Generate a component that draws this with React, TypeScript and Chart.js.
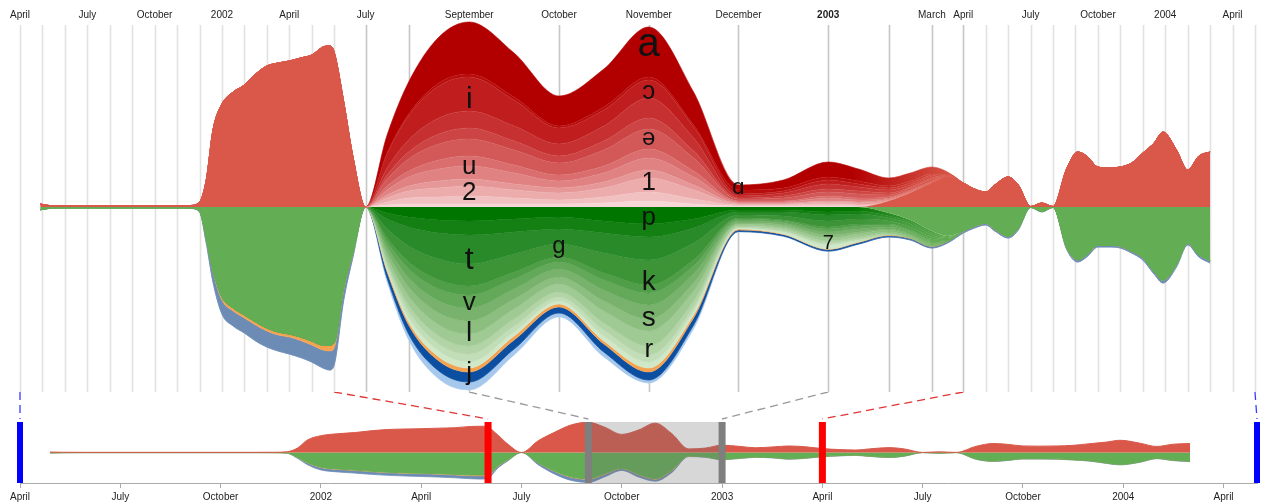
import { useEffect, useRef } from 'react';
import { Chart, LinearScale, registerables } from 'chart.js';

// ---------------- DATA ----------------
// time in months since April 2001 (0 = April 2001, 37 = May 2004)
const months = [
  0.9, 1.3, 2, 3, 4, 5, 6, 7, 7.6, 8, 8.3, 8.6, 9, 9.5, 10, 10.5, 11, 11.5, 12, 12.5, 13, 13.5, 13.8, 14, 14.3, 14.6,
  15, 15.5, 16, 16.5, 17, 17.5, 18, 18.5, 19, 19.5, 20, 20.5, 21, 21.5, 22, 22.5, 23, 23.5, 24,
  24.5, 25, 25.4, 26, 26.45, 27, 27.5, 28, 28.6, 29.1, 29.5, 30, 30.5, 31, 31.5, 32, 32.5, 32.9, 33.5, 34, 34.5, 35,
];
// months of the detailed (focus) period
const focusMonths = [15, 15.5, 16, 16.5, 17, 17.5, 18, 18.5, 19, 19.5, 20, 20.5, 21, 21.5, 22, 22.5, 23, 23.5, 24];

// aggregated streams (outside the focus)
const redAggregate = [
  3, 1.5, 1, 1, 1, 1, 1, 1, 1.5, 5, 27, 77, 103, 115, 122, 133, 141, 144, 146, 149, 152, 160, 161, 155, 106, 50,
  0, 0, 0, 0, 0, 0, 0, 0, 0, 0, 0, 0, 0, 0, 6, 14, 24, 30, 24,
  18, 15, 22, 30, 22, 0.5, 4, 0.5, 38, 55, 51, 40, 39, 40, 44, 54, 64, 75, 57, 37, 51, 55,
];
const greenAggregate = [
  2.7, 1.3, 0.8, 0.8, 0.8, 0.8, 0.8, 0.8, 1.2, 4, 31, 63, 90, 101, 108, 115, 121, 125, 127, 130, 134, 138, 138, 136, 81, 45,
  0, 0, 0, 0, 0, 0, 0, 0, 0, 0, 0, 0, 0, 0, 6, 13, 24, 29, 24,
  19, 16, 22, 29, 21, 0.2, 4.3, 0.2, 40, 52.5, 47.5, 38, 38, 39, 44, 50.5, 64.5, 73, 57.5, 36, 47.5, 53.5,
];
const orangeBand = [
  0, 0, 0, 0, 0, 0, 0, 0, 0, 0.3, 1, 2, 3, 3, 3, 3, 3, 3, 3, 3.5, 4, 5, 6, 5, 3, 1,
  0, 2, 3, 4, 4, 4, 3, 3, 4, 3, 1, 0.5, 0.5, 0.5, 0.5, 0.5, 0.5, 0.5, 0.5,
  0.5, 0.5, 0.5, 0.5, 0.5, 0.1, 0.2, 0.1, 0.5, 0.5, 0.5, 0.5, 0.5, 0.5, 0.5, 0.5, 0.5, 0.5, 0.5, 0.5, 0.5, 0.5,
];
const blueBand = [
  0.3, 0.2, 0.2, 0.2, 0.2, 0.2, 0.2, 0.2, 0.3, 0.7, 4, 10, 14, 15, 15, 16, 16, 16, 17, 17, 17, 18, 19, 17, 10, 4,
  0, 6, 9, 10, 10, 9, 6, 8, 8, 7, 1.5, 1.5, 1.5, 1.5, 1.5, 1.5, 1.5, 1.5, 1.5,
  1.5, 1.5, 1.5, 1.5, 1.5, 0.2, 0.5, 0.2, 1.5, 2, 2, 1.5, 1.5, 1.5, 1.5, 2, 2, 2.5, 2, 1.5, 2, 2,
];
const blueLightBand = [0, 4, 6, 8, 8, 6, 4, 5, 3, 4, 0.5, 0.5, 0.5, 0.5, 0, 0, 0, 0, 0];

// detailed vowel streams (focus months), outermost first
const vowelA = [0, 18, 32, 46, 52, 44, 30, 38, 50, 33, 5, 8, 15, 12, 8, 8, 7, 2, 0];
const vowelAlpha = [0, 1, 2, 3, 3, 3, 2, 3, 3, 2, 4, 3, 3, 3, 2, 2, 1, 0, 0];
const vowelI = [0, 14, 24, 32, 34, 26, 16, 16, 18, 11, 2, 2, 4, 3, 2, 2, 1, 0, 0];
const vowelOpenO = [0, 7, 12, 16, 17, 15, 12, 15, 20, 13, 2, 3, 5, 4, 3, 2, 2, 1, 0];
const vowelE = [0, 4, 7, 10, 11, 9, 7, 9, 11, 7, 1, 2, 3, 3, 2, 1, 1, 0, 0];
const vowelSchwa = [0, 7, 12, 16, 17, 15, 12, 16, 20, 13, 2, 3, 4, 4, 2, 2, 2, 1, 0];
const vowelO = [0, 4, 6, 9, 10, 8, 6, 7, 9, 6, 1, 1, 2, 2, 1, 1, 1, 0, 0];
const vowelU = [0, 5, 9, 12, 13, 11, 7, 9, 12, 8, 1, 1, 3, 2, 1, 1, 1, 1, 0];
const vowelEps = [0, 3, 5, 7, 7, 6, 5, 6, 8, 5, 1, 1, 1, 1, 1, 1, 0, 0, 0];
const vowel1 = [0, 4, 7, 9, 10, 8, 7, 9, 14, 9, 1, 1, 2, 2, 1, 0, 0, 0, 0];
const vowel2 = [0, 3, 6, 7, 8, 6, 4, 6, 9, 5, 1, 1, 2, 1, 0, 0, 0, 0, 0];
const vowelY = [0, 2, 3, 3, 3, 3, 3, 4, 6, 3, 1, 1, 1, 1, 0, 0, 0, 0, 0];

// detailed consonant streams (focus months), closest to the centre first
const consP = [0, 6, 10, 13, 14, 12, 10, 14, 17, 12, 3, 3, 5, 4, 3, 2, 2, 1, 0];
const consG = [0, 6, 10, 13, 14, 13, 12, 12, 13, 9, 2, 2, 3, 3, 2, 2, 2, 1, 0];
const consT = [0, 10, 19, 26, 29, 22, 15, 20, 23, 15, 3, 4, 6, 5, 3, 3, 2, 1, 0];
const consK = [0, 9, 16, 21, 22, 18, 13, 20, 25, 17, 3, 4, 6, 5, 3, 3, 2, 1, 0];
const consD = [0, 4, 7, 9, 9, 7, 5, 7, 8, 6, 1, 1, 2, 2, 1, 1, 1, 0, 0];
const consV = [0, 5, 9, 12, 13, 10, 7, 10, 12, 8, 2, 2, 3, 3, 2, 1, 1, 0, 0];
const consS = [0, 5, 9, 12, 13, 10, 8, 11, 14, 9, 2, 2, 3, 3, 2, 2, 1, 1, 0];
const consL = [0, 5, 9, 12, 13, 10, 7, 10, 12, 8, 1, 2, 3, 2, 1, 1, 1, 0, 0];
const consR = [0, 5, 9, 11, 12, 10, 8, 12, 15, 10, 2, 2, 3, 3, 2, 1, 1, 0, 0];
const consN = [0, 3, 6, 8, 8, 7, 5, 7, 9, 6, 1, 2, 2, 2, 1, 1, 1, 0, 0];
const consH = [0, 3, 6, 7, 8, 6, 4, 6, 7, 4, 1, 1, 2, 1, 1, 1, 1, 0, 0];
const cons7 = [0, 2, 5, 6, 6, 4, 3, 5, 6, 4, 1, 2, 4, 2, 1, 0, 0, 0, 0];

// stream labels
const streamLabels = ['a', 'ɔ', 'ə', '1', 'i', 'u', '2', 'ɑ', 'p', 't', 'g', 'k', 'v', 's', 'l', 'r', 'j', '7'];
const streamLabelMonths = [19, 19, 19, 19, 17, 17, 17, 20, 19, 17, 18, 19, 17, 19, 17, 19, 17, 21];
const streamLabelValues = [162, 115, 69, 24, 107, 40, 14, 19, -11, -53, -39, -75, -96, -111, -126, -143, -166, -36];
const streamLabelSizes = [40, 26, 24, 26, 30, 26, 26, 22, 26, 32, 24, 28, 26, 28, 28, 26, 26, 20];

// axes
const topGridMonths = [0, 1, 2, 3, 4, 5, 6, 7, 8, 9, 10, 11, 12, 13, 14, 15, 16, 17, 18, 19, 20, 21, 22, 23, 24, 25, 26, 27, 28, 29, 30, 31, 32, 33, 34, 35, 36, 37];
const topLabelMonths = [0, 3, 6, 9, 12, 15, 17, 18, 19, 20, 21, 23, 24, 27, 30, 33, 36];
const topLabelTexts = ['April', 'July', 'October', '2002', 'April', 'July', 'September', 'October', 'November', 'December', '2003', 'March', 'April', 'July', 'October', '2004', 'April'];
const bottomTickMonths = [0, 3, 6, 9, 12, 15, 18, 21, 24, 27, 30, 33, 36];
const bottomTickTexts = ['April', 'July', 'October', '2002', 'April', 'July', 'October', '2003', 'April', 'July', 'October', '2004', 'April'];

// fisheye lens: magnification of each month interval on the top axis
const monthMagnification = [1, 1, 1, 1, 1, 1, 1, 1, 1, 1, 1, 1, 1, 1, 1.4, 1.92, 2.7, 4, 4, 4, 4, 2.7, 1.92, 1.4, 1, 1, 1, 1, 1, 1, 1, 1, 1, 1, 1, 1, 1];
// lens markers on the overview
const lensEdgeMonths = [0, 37];
const lensRampMonths = [14, 24];
const lensFocusMonths = [17, 21];

// ---------------- STYLE ----------------
const FONT = '"Liberation Sans", Arial, "DejaVu Sans", sans-serif';
const RED_AGG = 'rgb(217,88,74)';
const GREEN_AGG = 'rgb(99,173,84)';
const ORANGE = 'rgb(244,162,80)';
const BLUE_GRAY = 'rgb(108,140,182)';
const BLUE_DARK = 'rgb(12,78,160)';
const BLUE_LIGHT = 'rgb(166,200,236)';
const vowelShades = [
  'rgb(178,0,0)', 'rgb(185,12,12)', 'rgb(192,30,30)', 'rgb(199,48,48)', 'rgb(205,68,68)', 'rgb(211,88,88)',
  'rgb(218,110,110)', 'rgb(224,130,130)', 'rgb(230,152,152)', 'rgb(236,172,172)', 'rgb(241,192,192)', 'rgb(246,214,214)',
];
const consonantShades = [
  'rgb(0,118,0)', 'rgb(20,128,20)', 'rgb(40,138,40)', 'rgb(60,148,55)', 'rgb(80,158,72)', 'rgb(100,168,90)',
  'rgb(120,178,108)', 'rgb(140,190,128)', 'rgb(160,202,148)', 'rgb(178,212,166)', 'rgb(194,222,184)', 'rgb(208,232,200)',
];
const FADE = [14.95, 15.15, 21.4, 23.7];

const vowelSeries = [vowelA, vowelAlpha, vowelI, vowelOpenO, vowelE, vowelSchwa, vowelO, vowelU, vowelEps, vowel1, vowel2, vowelY];
const consonantSeries = [consP, consG, consT, consK, consD, consV, consS, consL, consR, consN, consH, cons7];

// ---------------- FISHEYE SCALE ----------------
const cumulative: number[] = [0];
for (let i = 0; i < monthMagnification.length; i++) cumulative.push(cumulative[i] + monthMagnification[i]);
const lensTotal = cumulative[cumulative.length - 1];
const lastMonth = monthMagnification.length;

function fisheyeFraction(v: number) {
  if (v <= 0) return (v * monthMagnification[0]) / lensTotal;
  if (v >= lastMonth) return 1 + ((v - lastMonth) * monthMagnification[lastMonth - 1]) / lensTotal;
  const i = Math.floor(v);
  return (cumulative[i] + (v - i) * monthMagnification[i]) / lensTotal;
}
function fisheyeInverse(f: number) {
  const c = f * lensTotal;
  for (let i = 0; i < lastMonth; i++) {
    if (c <= cumulative[i + 1]) return i + (c - cumulative[i]) / monthMagnification[i];
  }
  return lastMonth;
}

class FisheyeScale extends LinearScale {
  static id = 'fisheye';
  static defaults = {};
  getPixelForValue(value: any) {
    if (value === null || value === undefined || isNaN(value)) return NaN;
    return this.getPixelForDecimal(fisheyeFraction(+value));
  }
  getValueForPixel(pixel: number) {
    return fisheyeInverse(this.getDecimalForPixel(pixel));
  }
}

Chart.register(...registerables, FisheyeScale as any);
Chart.defaults.font.family = FONT;
Chart.defaults.color = '#222';

// ---------------- HELPERS ----------------
const focusPos = new Map(focusMonths.map((m, i) => [m, i]));
// a focus-only stream is absent (0) outside the focus months
const onFullGrid = (values: number[]) => months.map((m) => {
  const f = focusPos.get(m);
  return f === undefined ? 0 : values[f];
});
const pts = (xs: number[], ys: number[], sign = 1) => xs.map((x, i) => ({ x, y: sign * ys[i] }));

function bandGradient(chart: any, focusColor: string, contextColor: string) {
  const area = chart.chartArea;
  const xs = chart.scales && chart.scales.x;
  if (!area || !xs) return focusColor;
  const w = area.right - area.left;
  const stop = (m: number) => Math.min(1, Math.max(0, (xs.getPixelForValue(m) - area.left) / w));
  const g = chart.ctx.createLinearGradient(area.left, 0, area.right, 0);
  g.addColorStop(0, contextColor);
  g.addColorStop(stop(FADE[0]), contextColor);
  g.addColorStop(stop(FADE[1]), focusColor);
  g.addColorStop(stop(FADE[2]), focusColor);
  g.addColorStop(stop(FADE[3]), contextColor);
  g.addColorStop(1, contextColor);
  return g;
}

const areaBase = {
  pointRadius: 0,
  pointHitRadius: 0,
  cubicInterpolationMode: 'monotone',
  borderWidth: 0,
};

function topDatasets() {
  const ds: any[] = [];
  ds.push({ ...areaBase, label: 'vowels', stack: 'up', data: pts(months, redAggregate), backgroundColor: RED_AGG, fill: 'origin' });
  for (let k = vowelSeries.length - 1; k >= 0; k--) {
    const shade = vowelShades[k];
    const grad = (c: any) => bandGradient(c.chart, shade, RED_AGG);
    ds.push({ ...areaBase, stack: 'up', data: pts(months, onFullGrid(vowelSeries[k])), backgroundColor: grad, borderColor: grad, borderWidth: 0.6, fill: '-1' });
  }
  ds.push({ ...areaBase, label: 'consonants', stack: 'down', data: pts(months, greenAggregate, -1), backgroundColor: GREEN_AGG, fill: 'origin' });
  consonantSeries.forEach((s, k) => {
    const shade = consonantShades[k];
    const grad = (c: any) => bandGradient(c.chart, shade, GREEN_AGG);
    ds.push({ ...areaBase, stack: 'down', data: pts(months, onFullGrid(s), -1), backgroundColor: grad, borderColor: grad, borderWidth: 0.6, fill: '-1' });
  });
  ds.push({ ...areaBase, stack: 'down', data: pts(months, orangeBand, -1), backgroundColor: ORANGE, borderColor: ORANGE, borderWidth: 0.6, fill: '-1' });
  const blueGrad = (c: any) => bandGradient(c.chart, BLUE_DARK, BLUE_GRAY);
  ds.push({ ...areaBase, stack: 'down', data: pts(months, blueBand, -1), backgroundColor: blueGrad, borderColor: blueGrad, borderWidth: 0.8, fill: '-1' });
  const lightGrad = (c: any) => bandGradient(c.chart, BLUE_LIGHT, BLUE_GRAY);
  ds.push({ ...areaBase, stack: 'down', data: pts(months, onFullGrid(blueLightBand), -1), backgroundColor: lightGrad, borderColor: lightGrad, borderWidth: 0.5, fill: '-1' });
  return ds;
}

// overview totals built from the same streams
const sumAt = (series: number[][], i: number) => {
  const f = focusPos.get(months[i]);
  return f === undefined ? 0 : series.reduce((s, a) => s + a[f], 0);
};
const redTotal = months.map((_, i) => redAggregate[i] + sumAt(vowelSeries, i));
const greenTotal = months.map((_, i) => greenAggregate[i] + sumAt(consonantSeries, i));
const blueTotal = months.map((_, i) => blueBand[i] + sumAt([blueLightBand], i));

const gridPlugin = {
  id: 'monthGrid',
  beforeDraw(chart: any) {
    const { ctx, scales } = chart;
    const xs = scales.x;
    ctx.save();
    ctx.lineWidth = 1.6;
    for (const m of topGridMonths) {
      const x = Math.round(xs.getPixelForValue(m)) + 0.5;
      ctx.strokeStyle = m >= 15 && m <= 24 ? '#c6c6c6' : '#e2e2e2';
      ctx.beginPath();
      ctx.moveTo(x, 25);
      ctx.lineTo(x, chart.height - 2);
      ctx.stroke();
    }
    ctx.restore();
  },
};

const labelPlugin = {
  id: 'streamLabels',
  afterDatasetsDraw(chart: any) {
    const { ctx, scales } = chart;
    ctx.save();
    ctx.fillStyle = '#111';
    ctx.textAlign = 'center';
    ctx.textBaseline = 'middle';
    streamLabels.forEach((t, i) => {
      ctx.font = `${streamLabelSizes[i]}px ${FONT}`;
      ctx.fillText(t, scales.x.getPixelForValue(streamLabelMonths[i]), scales.y.getPixelForValue(streamLabelValues[i]));
    });
    ctx.restore();
  },
};

function lensPlugin(getTop: () => any) {
  return {
    id: 'lens',
    afterDatasetsDraw(chart: any) {
      const { ctx, chartArea: a, scales } = chart;
      const top = getTop();
      const px = (m: number) => scales.x.getPixelForValue(m);
      const tx = (m: number) => (top ? top.scales.x.getPixelForValue(m) : px(m));
      const h = a.bottom - a.top;
      ctx.save();
      ctx.fillStyle = 'rgba(110,110,110,0.28)';
      ctx.fillRect(px(lensFocusMonths[0]), a.top, px(lensFocusMonths[1]) - px(lensFocusMonths[0]), h);
      const groups = [
        { list: lensEdgeMonths, bar: '#0000ff', dash: '#3a3aff', w: 6 },
        { list: lensRampMonths, bar: '#ff0000', dash: '#e03535', w: 7 },
        { list: lensFocusMonths, bar: '#7f7f7f', dash: '#9a9a9a', w: 7 },
      ];
      for (const g of groups) {
        for (const m of g.list) {
          ctx.setLineDash([8, 5]);
          ctx.strokeStyle = g.dash;
          ctx.lineWidth = 1.3;
          ctx.beginPath();
          ctx.moveTo(tx(m), 0);
          ctx.lineTo(px(m), a.top - 3);
          ctx.stroke();
          ctx.setLineDash([]);
          ctx.fillStyle = g.bar;
          ctx.fillRect(px(m) - g.w / 2, a.top, g.w, h);
        }
      }
      ctx.restore();
    },
  };
}

export default function App() {
  const topRef = useRef<HTMLCanvasElement>(null);
  const bottomRef = useRef<HTMLCanvasElement>(null);

  useEffect(() => {
    const topChart: any = new Chart(topRef.current as HTMLCanvasElement, {
      type: 'line',
      data: { datasets: topDatasets() },
      options: {
        animation: false,
        responsive: false,
        events: [],
        layout: { padding: { left: 20, right: 9, top: 0, bottom: 0 } },
        plugins: { legend: { display: false }, tooltip: { enabled: false } },
        scales: {
          x: {
            type: 'fisheye',
            position: 'top',
            min: 0,
            max: 37,
            afterBuildTicks: (s: any) => { s.ticks = topGridMonths.map((v) => ({ value: v })); },
            afterFit: (s: any) => { s.height = 20; },
            grid: { display: false, drawTicks: false },
            border: { display: false },
            ticks: {
              autoSkip: false,
              maxRotation: 0,
              minRotation: 0,
              padding: -1,
              color: '#222',
              font: (c: any) => ({ size: 10, weight: c.tick && c.tick.value === 21 ? 'bold' : 'normal' }),
              callback: (v: any) => {
                const k = topLabelMonths.indexOf(+v);
                return k >= 0 ? topLabelTexts[k] : '';
              },
            },
          } as any,
          y: { display: false, stacked: true, min: -187, max: 187 },
        },
      } as any,
      plugins: [gridPlugin, labelPlugin],
    } as any);

    const bottomChart = new Chart(bottomRef.current as HTMLCanvasElement, {
      type: 'line',
      data: {
        datasets: [
          { ...areaBase, stack: 'up', data: pts(months, redTotal), backgroundColor: RED_AGG, borderColor: RED_AGG, borderWidth: 1, fill: 'origin' },
          { ...areaBase, stack: 'down', data: pts(months, greenTotal, -1), backgroundColor: GREEN_AGG, borderColor: GREEN_AGG, borderWidth: 1, fill: 'origin' },
          { ...areaBase, stack: 'down', data: pts(months, orangeBand, -1), backgroundColor: ORANGE, borderColor: ORANGE, borderWidth: 0.5, fill: '-1' },
          { ...areaBase, stack: 'down', data: pts(months, blueTotal, -1), backgroundColor: BLUE_GRAY, borderColor: BLUE_GRAY, borderWidth: 0.8, fill: '-1' },
        ],
      },
      options: {
        animation: false,
        responsive: false,
        events: [],
        layout: { padding: { left: 20, right: 7, top: 30, bottom: 0 } },
        plugins: { legend: { display: false }, tooltip: { enabled: false } },
        scales: {
          x: {
            type: 'linear',
            position: 'bottom',
            min: 0,
            max: 37,
            afterBuildTicks: (s: any) => { s.ticks = bottomTickMonths.map((v) => ({ value: v })); },
            afterFit: (s: any) => { s.height = 21; },
            grid: { drawOnChartArea: false, tickLength: 5, color: '#aaa' },
            border: { display: true, color: '#aaa' },
            ticks: {
              autoSkip: false,
              maxRotation: 0,
              minRotation: 0,
              padding: 3,
              color: '#222',
              font: { size: 10 },
              callback: (v: any) => {
                const k = bottomTickMonths.indexOf(+v);
                return k >= 0 ? bottomTickTexts[k] : '';
              },
            },
          },
          y: { display: false, stacked: true, min: -187, max: 187 },
        },
      } as any,
      plugins: [lensPlugin(() => topChart)],
    } as any);

    return () => {
      bottomChart.destroy();
      topChart.destroy();
    };
  }, []);

  return (
    <div style={{ position: 'absolute', left: 0, top: 0, width: 1264, height: 504, background: '#fff' }}>
      <canvas ref={topRef} width={1264} height={394} style={{ position: 'absolute', left: 0, top: 0 }} />
      <canvas ref={bottomRef} width={1264} height={112} style={{ position: 'absolute', left: 0, top: 392 }} />
    </div>
  );
}
